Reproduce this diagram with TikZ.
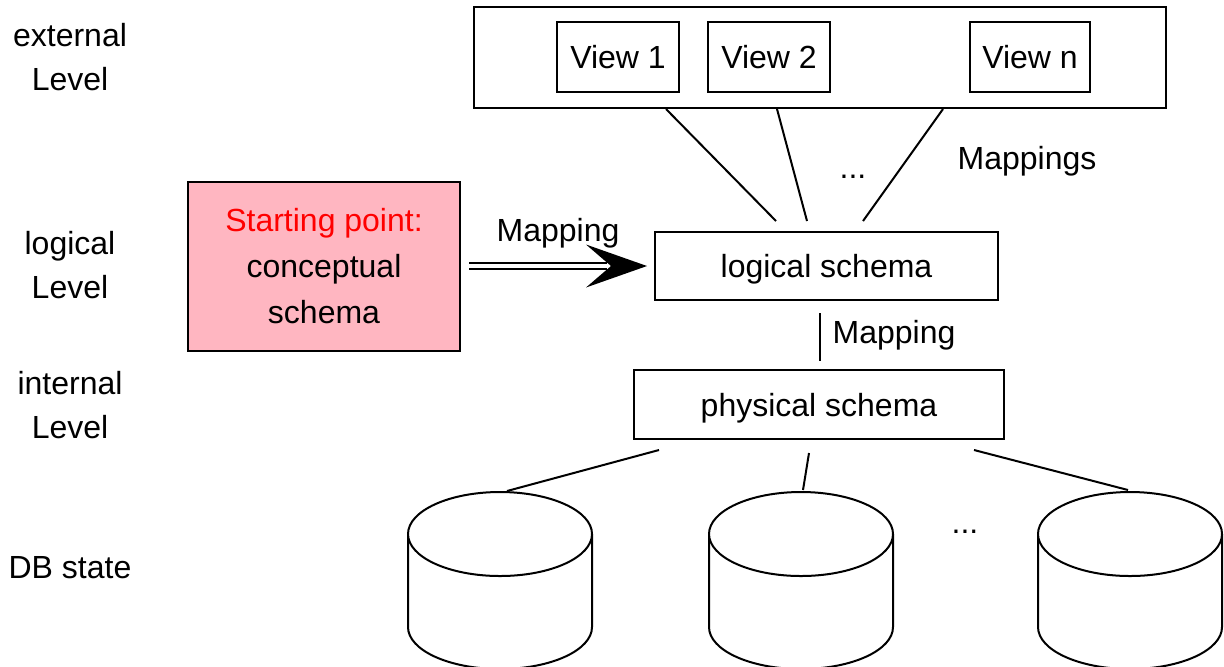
\documentclass[tikz,border=0pt]{standalone}
\usepackage{fontspec}
\setmainfont{Liberation Sans}
\begin{document}
\begin{tikzpicture}[x=0.5pt,y=-0.5pt,line width=1pt,
  every node/.style={font=\fontsize{16}{22}\selectfont,inner sep=0pt},
  box/.style={draw,text height=11.5pt,text depth=0pt},
  sz/.style 2 args={minimum width=#1*0.5pt,minimum height=#2*0.5pt},
  lbl/.style={anchor=base},
  lvl/.style={align=center},
  conn/.style={line width=1pt},
  dbl/.style={double,double distance=1.6pt,line width=1.2pt}]
\useasboundingbox (0,0) rectangle (1224,666);
\clip (0,0) rectangle (1224,666);

% level labels
\node[lvl] (extl) at (70,57.5) {external\\Level};
\node[lvl] (logl) at (70,265.5) {logical\\Level};
\node[lvl] (intl) at (70,405.5) {internal\\Level};
\node[box,draw=none] (dbl) at (70,567) {DB state};

% external level
\node[draw,sz={692}{101}] (outer) at (820,57.5) {};
\node[box,sz={122}{70}] (v1) at (618,57) {View 1};
\node[box,sz={122}{70}] (v2) at (769,57) {View 2};
\node[box,sz={120}{70}] (vn) at (1030,57) {View n};

% logical level
\node[box,sz={343}{68}] (logical) at (826.5,266) {logical schema};
\node[draw,fill={rgb,255:red,255;green,182;blue,193},sz={272}{169},align=center,
  font=\fontsize{16}{23}\selectfont] (start) at (324,266)
  {\textcolor{red}{Starting point:}\\conceptual\\schema};

% physical
\node[box,sz={370}{69}] (physical) at (819,404.5) {physical schema};

% mappings external -> logical
\draw[conn] ([xshift=96.5pt]outer.south west) -- ([xshift=61pt,yshift=5pt]logical.north west);
\draw[conn] ([xshift=152pt]outer.south west) -- ([xshift=76.5pt,yshift=5pt]logical.north west);
\draw[conn] ([xshift=235pt]outer.south west) -- ([xshift=104.5pt,yshift=5pt]logical.north west);
\node[lbl] (dots1) at (853,178) {...};
\node[lbl] (maps) at (1027,169) {Mappings};

% conceptual -> logical
\coordinate (tip) at ([xshift=-3.5pt]logical.west);
\draw[dbl] ([xshift=4pt]start.east) -- ([xshift=-20pt]tip);
\fill (tip) -- ([shift={(-30.5pt,10.75pt)}]tip) -- ([xshift=-18pt]tip)
  -- ([shift={(-30.5pt,-10.75pt)}]tip) -- cycle;
\node[lbl] (map1) at (558,241) {Mapping};

% logical -> physical
\draw[conn] ([xshift=-3.25pt,yshift=-6pt]logical.south) -- ([xshift=0.5pt,yshift=4pt]physical.north);
\node[lbl] (map2) at (894,343) {Mapping};

% DB cylinders
\foreach \cx/\nm in {500/c1,801/c2,1130/c3}{
  \draw[fill=white] (\cx-92,534) -- (\cx-92,627)
    arc[start angle=180,end angle=0,x radius=92,y radius=42] -- (\cx+92,534);
  \draw[fill=white] (\cx,534) ellipse [x radius=92,y radius=42];
  \coordinate (\nm) at (\cx,492);
}
\draw[conn] ([xshift=13pt,yshift=-5pt]physical.south west) -- ([xshift=3.5pt,yshift=0.5pt]c1);
\draw[conn] ([xshift=88pt,yshift=-6.5pt]physical.south west) -- ([xshift=1pt,yshift=1pt]c2);
\draw[conn] ([xshift=170.5pt,yshift=-5pt]physical.south west) -- ([xshift=-1pt,yshift=1pt]c3);
\node[lbl] (dots2) at (965,533) {...};
\end{tikzpicture}
\end{document}
